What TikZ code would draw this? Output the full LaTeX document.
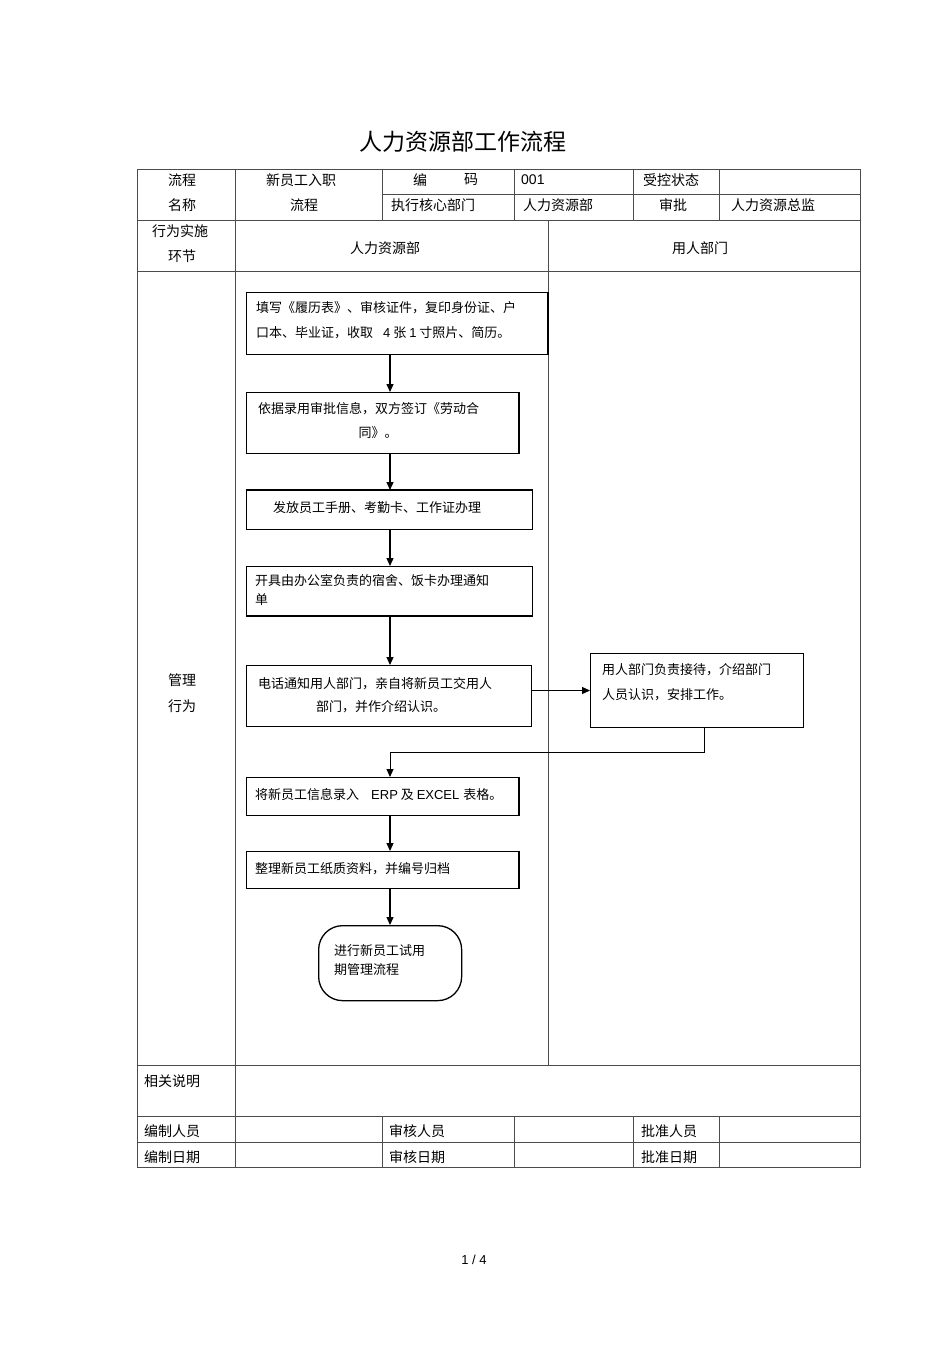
\documentclass[tikz,border=0pt]{standalone}
\usepackage{fontspec}
\setmainfont{Noto Sans CJK SC}
\newfontfamily\arialf{Liberation Sans}
\usetikzlibrary{arrows.meta,calc}
\begin{document}
\begin{tikzpicture}[x=1pt,y=-1pt,
  tl/.style={draw=black!70,line width=0.9pt},
  box/.style={draw=black,line width=1pt,inner sep=0,anchor=north west},
  thk/.style={line width=2.2pt},
  tx/.style={inner sep=0,font=\fontsize{14}{16}\selectfont},
  txl/.style={tx,anchor=west},
  bt/.style={inner sep=0,anchor=west,font=\fontsize{13}{14}\selectfont},
  arr/.style={-{Triangle[length=8pt,width=7pt]},line width=1.2pt}]
\useasboundingbox[fill=white] (0,0) rectangle (950,1345);

% title and footer
\node[inner sep=0,font=\fontsize{23}{24}\selectfont] (title) at (463,142) {人力资源部工作流程};
\node[inner sep=0,font=\arialf\fontsize{13}{14}\selectfont] (page) at (474,1260) {1 / 4};

% table grid
\draw[tl] (137,169) rectangle (860,1167);
\draw[tl] (382,194) -- (860,194);
\draw[tl] (137,220) -- (860,220);
\draw[tl] (137,271) -- (860,271);
\draw[tl] (137,1065) -- (860,1065);
\draw[tl] (137,1116) -- (860,1116);
\draw[tl] (137,1142) -- (860,1142);
\draw[tl] (235,169) -- (235,1167);
\foreach \x in {382,514,633,719} {
  \draw[tl] (\x,169) -- (\x,220);
  \draw[tl] (\x,1116) -- (\x,1167);
}
\draw[tl] (548,220) -- (548,1065);

% header texts
\node[tx] (h1) at (182,180) {流程};
\node[tx] (h2) at (182,205) {名称};
\node[tx] (h3) at (301,180) {新员工入职};
\node[tx] (h4) at (304,205) {流程};
\node[tx] (h5) at (420,180) {编};
\node[tx] (h6) at (471,180) {码};
\node[txl,font=\arialf\fontsize{14}{16}\selectfont] (h7) at (521,180) {001};
\node[tx] (h8) at (671,180) {受控状态};
\node[tx] (h9) at (433,205) {执行核心部门};
\node[tx] (h10) at (558,205) {人力资源部};
\node[tx] (h11) at (673,205) {审批};
\node[tx] (h12) at (773,205) {人力资源总监};
\node[tx] (r1) at (180,231) {行为实施};
\node[tx] (r2) at (182,256) {环节};
\node[tx] (r3) at (385,248) {人力资源部};
\node[tx] (r4) at (700,248) {用人部门};
\node[tx] (m1) at (182,680) {管理};
\node[tx] (m2) at (182,706) {行为};
\node[txl] (n1) at (144,1081) {相关说明};
\node[txl] (f1) at (144,1131) {编制人员};
\node[txl] (f2) at (389,1131) {审核人员};
\node[txl] (f3) at (641,1131) {批准人员};
\node[txl] (f4) at (144,1157) {编制日期};
\node[txl] (f5) at (389,1157) {审核日期};
\node[txl] (f6) at (641,1157) {批准日期};

% boxes
\node[box,minimum width=301pt,minimum height=62pt] (b1) at (246,292) {};
\draw[thk] (b1.north east) -- (b1.south east);
\node[box,minimum width=272pt,minimum height=61pt] (b2) at (246,392) {};
\draw[thk] (b2.north east) -- (b2.south east);
\node[box,minimum width=286pt,minimum height=39pt] (b3) at (246,490) {};
\draw[thk] (b3.north west) -- (b3.north east);
\node[box,minimum width=286pt,minimum height=49pt] (b4) at (246,566) {};
\draw[line width=1.6pt] (b4.south west) -- (b4.south east);
\node[box,minimum width=285pt,minimum height=61pt] (b5) at (246,665) {};
\node[box,minimum width=213pt,minimum height=74pt] (b6) at (590,653) {};
\node[box,minimum width=272pt,minimum height=38pt] (b7) at (246,777) {};
\draw[thk] (b7.north east) -- (b7.south east);
\node[box,minimum width=272pt,minimum height=37pt] (b8) at (246,851) {};
\draw[thk] (b8.north east) -- (b8.south east);
\node[box,rounded corners=24pt,minimum width=143pt,minimum height=75pt,line width=1.3pt] (b9) at (318,925) {};

% box texts
\node[bt] (t1a) at (256,308) {填写《履历表》、审核证件，复印身份证、户};
\node[bt] (t1b) at (256,333) {口本、毕业证，收取\hspace{10pt}{\arialf 4} 张 {\arialf 1} 寸照片、简历。};
\node[bt] (t2a) at (258,409) {依据录用审批信息，双方签订《劳动合};
\node[bt,anchor=center] (t2b) at (378,433) {同》。};
\node[bt] (t3) at (273,508) {发放员工手册、考勤卡、工作证办理};
\node[bt] (t4a) at (255,581) {开具由办公室负责的宿舍、饭卡办理通知};
\node[bt] (t4b) at (255,600) {单};
\node[bt] (t5a) at (258,684) {电话通知用人部门，亲自将新员工交用人};
\node[bt] (t5b) at (316,707) {部门，并作介绍认识。};
\node[bt] (t6a) at (602,670) {用人部门负责接待，介绍部门};
\node[bt] (t6b) at (602,695) {人员认识，安排工作。};
\node[bt] (t7) at (255,795) {将新员工信息录入\hspace{12pt}{\arialf ERP} 及 {\arialf EXCEL}\hspace{4pt}表格。};
\node[bt] (t8) at (255,869) {整理新员工纸质资料，并编号归档};
\node[bt] (t9a) at (334,951) {进行新员工试用};
\node[bt] (t9b) at (334,970) {期管理流程};

% connectors
\coordinate (cx) at (390,0);
\coordinate (cr) at (704,0);
\coordinate (cj) at (0,752);
\draw[arr] (b1.south -| cx) -- (b2.north -| cx);
\draw[arr] (b2.south -| cx) -- (b3.north -| cx);
\draw[arr] (b3.south -| cx) -- (b4.north -| cx);
\draw[arr] (b4.south -| cx) -- (b5.north -| cx);
\draw[arr] (b5.east |- b6.west) -- (b6.west);
\draw[arr,line width=1pt] (b6.south -| cr) -- (cr |- cj) -- (cx |- cj) -- (b7.north -| cx);
\draw[arr] (b7.south -| cx) -- (b8.north -| cx);
\draw[arr] (b8.south -| cx) -- (b9.north -| cx);
\end{tikzpicture}
\end{document}
